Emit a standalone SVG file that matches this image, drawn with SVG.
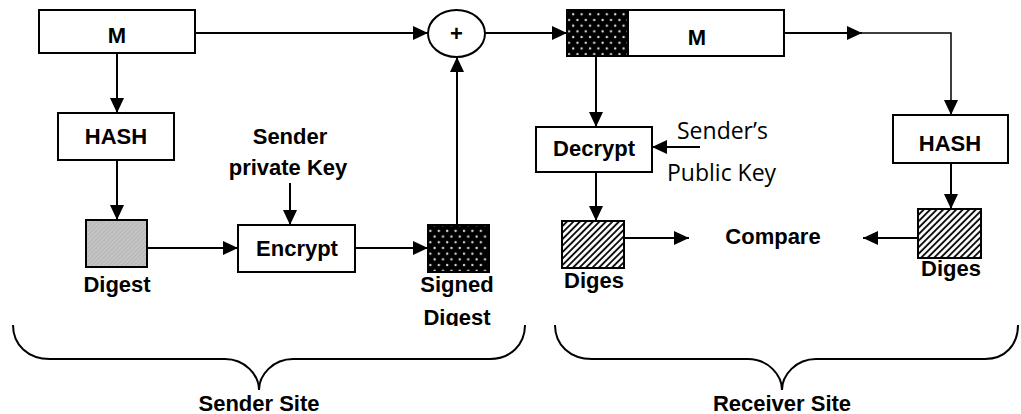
<svg xmlns="http://www.w3.org/2000/svg" width="1021" height="414" viewBox="0 0 1021 414">
<style>
.box{fill:#fff;stroke:#000;stroke-width:2}
.ln{fill:none;stroke:#000;stroke-width:2}
.b{font-family:"Liberation Sans",Arial,sans-serif;font-weight:bold;font-size:22px;fill:#000;text-anchor:middle}
.r{font-family:"Open Sans","Liberation Sans",sans-serif;font-size:23px;fill:#000}
</style>
<defs>
<marker id="ah" markerUnits="userSpaceOnUse" markerWidth="15" markerHeight="14" refX="15" refY="7" orient="auto">
<path d="M0,0 L15,7 L0,14 z" fill="#000"/>
</marker>
<pattern id="gray" width="3" height="3" patternUnits="userSpaceOnUse" patternTransform="rotate(45)">
<rect width="3" height="3" fill="#c4c4c4"/>
<line x1="0" y1="0" x2="0" y2="3" stroke="#a8a8a8" stroke-width="1"/>
</pattern>
<pattern id="dots" width="8.4" height="11.4" patternUnits="userSpaceOnUse">
<rect width="8.4" height="11.4" fill="#000"/>
<circle cx="2" cy="2.8" r="1.2" fill="#ddd"/>
<circle cx="6.2" cy="8.5" r="1.2" fill="#ddd"/>
</pattern>
<pattern id="hatch" width="4.6" height="4.6" patternUnits="userSpaceOnUse" patternTransform="rotate(45)">
<rect width="4.6" height="4.6" fill="#fff"/>
<line x1="1" y1="0" x2="1" y2="4.6" stroke="#000" stroke-width="1.8"/>
</pattern>
<clipPath id="clipSig"><rect x="400" y="270" width="120" height="56"/></clipPath>
</defs>

<g id="connectors">
<line class="ln" x1="195" y1="33" x2="428" y2="33" marker-end="url(#ah)"/>
<line class="ln" x1="117" y1="53" x2="117" y2="113" marker-end="url(#ah)"/>
<line class="ln" x1="117" y1="160" x2="117" y2="220" marker-end="url(#ah)"/>
<line class="ln" x1="147" y1="248" x2="238" y2="248" marker-end="url(#ah)"/>
<line class="ln" x1="290" y1="183" x2="290" y2="225" marker-end="url(#ah)"/>
<line class="ln" x1="355" y1="248" x2="428" y2="248" marker-end="url(#ah)"/>
<line class="ln" x1="457" y1="225" x2="457" y2="57" marker-end="url(#ah)"/>
<line class="ln" x1="485" y1="33" x2="567" y2="33" marker-end="url(#ah)"/>
<line class="ln" x1="784" y1="33" x2="862" y2="33" marker-end="url(#ah)"/>
<polyline class="ln" style="stroke-width:1.5" points="862,33 951,33 951,115" marker-end="url(#ah)"/>
<line class="ln" x1="596" y1="56" x2="596" y2="127" marker-end="url(#ah)"/>
<line class="ln" x1="700" y1="147" x2="652" y2="147" marker-end="url(#ah)"/>
<line class="ln" x1="596" y1="172" x2="596" y2="221" marker-end="url(#ah)"/>
<line class="ln" x1="624" y1="238" x2="689" y2="238" marker-end="url(#ah)"/>
<line class="ln" x1="951" y1="163" x2="951" y2="209" marker-end="url(#ah)"/>
<line class="ln" x1="918" y1="238" x2="863" y2="238" marker-end="url(#ah)"/>
</g>

<g id="msg-sender">
<rect class="box" x="39" y="10" width="156" height="43"/>
<text class="b" x="117" y="43">M</text>
</g>
<g id="hash-sender">
<rect class="box" x="58" y="113" width="116" height="47"/>
<text class="b" x="116" y="144">HASH</text>
</g>
<g id="digest-sender">
<rect x="86" y="220" width="61" height="47" fill="url(#gray)" stroke="#000" stroke-width="2"/>
<text class="b" x="117" y="292">Digest</text>
</g>
<g id="private-key">
<text class="b" x="290" y="144">Sender</text>
<text class="b" x="288" y="175">private Key</text>
</g>
<g id="encrypt">
<rect class="box" x="238" y="225" width="117" height="47"/>
<text class="b" x="297" y="256">Encrypt</text>
</g>
<g id="signed-digest">
<rect x="428" y="225" width="61" height="47" fill="url(#dots)" stroke="#000" stroke-width="2"/>
<text class="b" x="457" y="292">Signed</text>
<text class="b" x="457" y="325" clip-path="url(#clipSig)">Digest</text>
</g>
<g id="plus">
<ellipse cx="456.5" cy="33.5" rx="28.5" ry="23.5" fill="#fff" stroke="#000" stroke-width="2"/>
<text class="b" x="456.5" y="41">+</text>
</g>
<g id="msg-receiver">
<rect x="567" y="10" width="61" height="46" fill="url(#dots)" stroke="#000" stroke-width="2"/>
<rect class="box" x="628" y="10" width="156" height="46"/>
<text class="b" x="697" y="45">M</text>
</g>
<g id="decrypt">
<rect class="box" x="536" y="127" width="116" height="45"/>
<text class="b" x="594" y="156">Decrypt</text>
</g>
<g id="public-key">
<text class="r" x="677" y="139">Sender’s</text>
<text class="r" x="667" y="181">Public Key</text>
</g>
<g id="digest-decrypted">
<rect x="562" y="221" width="62" height="47" fill="url(#hatch)" stroke="#000" stroke-width="2"/>
<text class="b" x="594" y="288">Diges</text>
</g>
<g id="compare">
<text class="b" x="773" y="244">Compare</text>
</g>
<g id="hash-receiver">
<rect class="box" x="893" y="115" width="115" height="48"/>
<text class="b" x="950" y="151">HASH</text>
</g>
<g id="digest-receiver">
<rect x="918" y="209" width="63" height="49" fill="url(#hatch)" stroke="#000" stroke-width="2"/>
<text class="b" x="951" y="276">Diges</text>
</g>
<g id="sender-site">
<path class="ln" d="M13,325 C13,345 28,359 50,359 L225,359 C245,359 259,375 259,390 C259,375 273,359 293,359 L490,359 C510,359 525,345 525,325"/>
<text class="b" x="259" y="411">Sender Site</text>
</g>
<g id="receiver-site">
<path class="ln" d="M555,325 C555,345 570,359 592,359 L748,359 C768,359 782,375 782,390 C782,375 796,359 816,359 L985,359 C1005,359 1018,345 1018,325"/>
<text class="b" x="782" y="411">Receiver Site</text>
</g>
</svg>
